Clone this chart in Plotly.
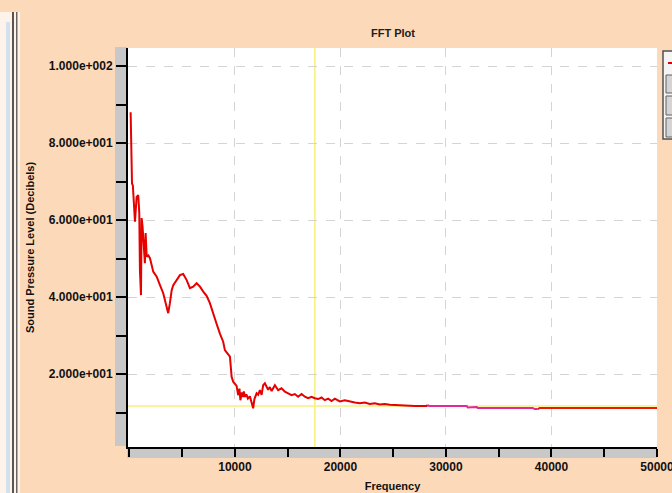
import plotly.graph_objects as go

# ---------------- data ----------------
freq_a = [120, 200, 250, 330, 430, 530, 690, 840, 940, 1000, 1100, 1160, 1250, 1380, 1470, 1540,
          1640, 1800, 1950, 2110, 2260, 2590, 2740, 2900, 3210, 3530, 3680, 3840, 4010, 4160, 4480,
          4790, 5100, 5430, 5740, 6050, 6370, 6690, 7000, 7320, 7630, 7950, 8270, 8580, 8890, 9050,
          9240, 9530, 9690, 9840, 10160, 10310, 10430, 10520, 10660, 10760, 10850, 10950, 11090,
          11230, 11420, 11580, 11730, 11850, 12060, 12210, 12370, 12530, 12680, 12840, 13000, 13150,
          13310, 13480, 13790, 13950, 14100, 14420, 14740, 15050, 15370, 15680, 15990, 16320, 16630,
          16940, 17260, 17570, 17890, 18210, 18520, 18840, 19160, 19470, 19940, 20420, 20890, 21360,
          21840, 22310, 22780, 23260, 23730, 24200, 24680, 25310, 26100, 27050, 28150, 28280]
spl_a = [88.0, 76.4, 69.5, 69.0, 62.6, 59.6, 66.0, 66.5, 61.8, 47.0, 40.5, 60.5, 58.3, 54.0, 48.8, 56.6,
         50.5, 50.8, 50.1, 48.3, 46.6, 45.3, 44.0, 43.1, 41.0, 37.1, 35.8, 38.4, 41.8, 43.1, 44.4,
         45.7, 46.0, 44.4, 42.3, 42.7, 43.6, 42.7, 41.4, 40.3, 38.4, 35.5, 33.0, 30.5, 28.4, 26.2,
         25.5, 24.5, 19.3, 18.0, 16.9, 14.5, 16.2, 13.2, 15.2, 14.0, 15.5, 14.1, 14.7,
         13.6, 14.2, 12.4, 11.1, 13.5, 15.0, 14.6, 15.8, 14.6, 17.1, 17.6, 16.8, 15.9,
         16.6, 15.6, 17.1, 16.3, 15.8, 16.3, 15.4, 15.0, 14.5, 14.8, 14.1, 14.8, 14.1,
         13.7, 14.1, 13.7, 13.5, 13.9, 13.2, 13.6, 13.0, 13.6, 12.9, 13.2, 12.8, 12.6,
         12.4, 12.6, 12.2, 12.4, 12.1, 12.2, 12.0, 11.9, 11.9, 11.7, 11.7, 11.9]
freq_b = [28280, 28400, 31970, 32060, 32920, 33010, 38220, 38410, 38700]
spl_b = [11.9, 11.7, 11.7, 11.3, 11.4, 11.2, 11.2, 10.9, 10.9]
freq_c = [38700, 38890, 50000]
spl_c = [10.9, 11.2, 11.2]

y_tick_vals = [20, 40, 60, 80, 100]
y_tick_text = ["2.000e+001", "4.000e+001", "6.000e+001", "8.000e+001", "1.000e+002"]
x_tick_vals = [10000, 20000, 30000, 40000, 50000]
x_tick_text = ["10000", "20000", "30000", "40000", "50000"]
cursor_x = 17575
cursor_y = 11.7

# ---------------- layout geometry ----------------
W, H = 672, 493
L, R, T, B = 128, 15, 48, 46
PW, PH = W - L - R, H - T - B


def px(x):
    return (x - L) / PW


def py(y):
    return (H - B - y) / PH


PEACH = "#fcd9b9"
FONT = "Liberation Sans, Arial, sans-serif"

fig = go.Figure()
fig.add_trace(go.Scatter(x=freq_a, y=spl_a, mode="lines",
                         line=dict(color="#e60000", width=2), showlegend=False))
fig.add_trace(go.Scatter(x=freq_b, y=spl_b, mode="lines",
                         line=dict(color="#e0289a", width=2), showlegend=False))
fig.add_trace(go.Scatter(x=freq_c, y=spl_c, mode="lines",
                         line=dict(color="#e81a10", width=2), showlegend=False))

shapes = []
# gray axis bands
shapes.append(dict(type="rect", xref="paper", yref="paper", x0=px(115), x1=px(127),
                   y0=py(446), y1=py(47), fillcolor="#c8c8c8", line=dict(width=0), layer="below"))
shapes.append(dict(type="rect", xref="paper", yref="paper", x0=px(127), x1=px(657),
                   y0=py(458), y1=py(448), fillcolor="#c8c8c8", line=dict(width=0), layer="below"))
# crosshair
shapes.append(dict(type="line", xref="x", yref="paper", x0=cursor_x, x1=cursor_x, y0=0, y1=1,
                   line=dict(color="#f7f07a", width=1.5), layer="between"))
shapes.append(dict(type="line", xref="paper", yref="y", x0=0, x1=1, y0=cursor_y, y1=cursor_y,
                   line=dict(color="#f7f07a", width=1.5), layer="between"))
# partial legend box on the right
shapes.append(dict(type="rect", xref="paper", yref="paper", x0=px(663), x1=px(690),
                   y0=py(139), y1=py(51), fillcolor="#f4f4f4", line=dict(color="#505050", width=1.5)))
for y0, y1 in [(75, 93), (96, 115), (118, 137)]:
    shapes.append(dict(type="rect", xref="paper", yref="paper", x0=px(666), x1=px(690),
                       y0=py(y1), y1=py(y0), fillcolor="#d4d4d4", line=dict(color="#606060", width=1)))
shapes.append(dict(type="line", xref="paper", yref="paper", x0=px(668), x1=px(672),
                   y0=py(63), y1=py(63), line=dict(color="#e00000", width=2)))
# window frame on the left
shapes.append(dict(type="rect", xref="paper", yref="paper", x0=px(0), x1=px(20),
                   y0=py(493), y1=py(12), fillcolor="#fdf3ea", line=dict(width=0), layer="below"))
shapes.append(dict(type="rect", xref="paper", yref="paper", x0=px(6), x1=px(10),
                   y0=py(493), y1=py(22), fillcolor="#d3e1ef", line=dict(width=0), layer="below"))
shapes.append(dict(type="rect", xref="paper", yref="paper", x0=px(12), x1=px(14),
                   y0=py(493), y1=py(12), fillcolor="#5a5450", line=dict(width=0), layer="below"))
shapes.append(dict(type="rect", xref="paper", yref="paper", x0=px(16), x1=px(17.5),
                   y0=py(493), y1=py(12), fillcolor="#6a6460", line=dict(width=0), layer="below"))

fig.update_layout(
    width=W, height=H,
    margin=dict(l=L, r=R, t=T, b=B, pad=0, autoexpand=False),
    paper_bgcolor=PEACH,
    plot_bgcolor="white",
    shapes=shapes,
    title=dict(text="FFT Plot", x=px(393), xanchor="center", xref="paper",
               y=1 - 33 / H, yref="container", yanchor="middle",
               font=dict(family=FONT, size=11, color="#202020", weight="bold")),
    font=dict(family=FONT, size=11, color="#111111"),
)

fig.update_xaxes(
    range=[-130, 50001], autorange=False, automargin=False,
    tickvals=x_tick_vals, ticktext=x_tick_text, ticklabeloverflow="allow",
    ticks="outside", ticklen=8, tickwidth=2, tickcolor="black",
    minor=dict(dtick=5000, tick0=0, ticks="outside", ticklen=8, tickwidth=2,
               tickcolor="black", showgrid=False),
    showline=True, linecolor="black", linewidth=2,
    showgrid=True, gridcolor="#d4d4d4", griddash="dash", gridwidth=1,
    zeroline=False,
    tickfont=dict(family=FONT, size=12, color="#111111", weight="bold"),
    title=dict(text="Frequency", standoff=9,
               font=dict(family=FONT, size=11, color="#111111", weight="bold")),
)
fig.update_yaxes(
    range=[1.04, 104.7], autorange=False, automargin=False,
    tickvals=y_tick_vals, ticktext=y_tick_text, ticklabelstandoff=1,
    ticks="outside", ticklen=10, tickwidth=2, tickcolor="black",
    minor=dict(dtick=10, tick0=0, ticks="outside", ticklen=10, tickwidth=2,
               tickcolor="black", showgrid=False),
    showline=True, linecolor="black", linewidth=2,
    showgrid=True, gridcolor="#d4d4d4", griddash="dash", gridwidth=1,
    zeroline=False,
    tickfont=dict(family=FONT, size=12, color="#111111", weight="bold"),
    title=dict(text="Sound Pressure Level (Decibels)", standoff=12,
               font=dict(family=FONT, size=11, color="#111111", weight="bold")),
)

fig.write_html("out.html")
